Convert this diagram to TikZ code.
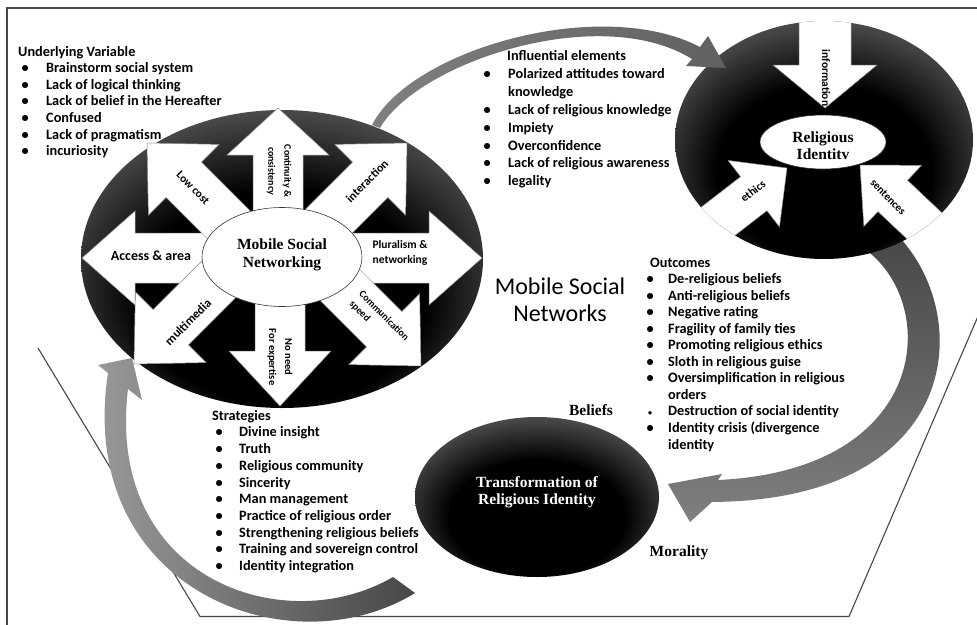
\documentclass[tikz,border=0pt]{standalone}
\usepackage{fontspec}
\setmainfont{Liberation Serif}
\newfontfamily\carlito{Carlito}
\usetikzlibrary{calc,shapes.geometric}

% black ovals: black core, grey rim that shows mostly towards the top
\pgfdeclareradialshading{rimshade}{\pgfpoint{0bp}{-10bp}}{color(0bp)=(black); color(18bp)=(black); color(34bp)=(black!58); color(50bp)=(black!58)}

% block arrow: #1 style, #2 start, #3 tip, #4 head length, #5 head half-width, #6 shaft half-width
\newcommand\blockarrow[6]{%
  \coordinate (ba-s) at #2;
  \coordinate (ba-t) at #3;
  \coordinate (ba-b) at ($(ba-t)!#4!(ba-s)$);
  \path[#1] ($(ba-s)!#6!90:(ba-t)$) -- ($(ba-b)!#6!90:(ba-t)$) -- ($(ba-b)!#5!90:(ba-t)$)
    -- (ba-t) -- ($(ba-b)!#5!-90:(ba-t)$) -- ($(ba-b)!#6!-90:(ba-t)$) -- ($(ba-s)!#6!-90:(ba-t)$) -- cycle;}

% bulleted list lines: offsets of heading, bullet centre and item text
\newcommand\listhead[2]{\hspace*{#1}#2}
\newcommand\listitem[3]{\hspace*{#1}\makebox[0pt]{\textbullet}\hspace*{#2}#3}
\newcommand\listsmall[3]{\hspace*{#1}\makebox[0pt]{\fontsize{8}{8}\selectfont\textbullet}\hspace*{#2}#3}
\newcommand\listcont[2]{\hspace*{#1}#2}

\begin{document}
\begin{tikzpicture}[x=1pt, y=-1pt,
  frameline/.style={draw=black!72, line width=1.3pt},
  % lists are placed by the baseline of their last line
  listbox/.style={font=\carlito\bfseries\fontsize{14.3}{#1}\selectfont, align=left, anchor=base west, inner sep=0pt},
  lbl/.style 2 args={font=\carlito\bfseries\fontsize{#1}{#2}\selectfont, inner sep=0pt, align=center},
  serifbold/.style 2 args={font=\bfseries\fontsize{#1}{#2}\selectfont, inner sep=0pt, align=center},
  blackoval/.style={ellipse, shading=rimshade, inner sep=0pt},
  whiteoval/.style={ellipse, fill=white, draw=black!80, line width=0.6pt, inner sep=0pt},
  whitearrow/.style={fill=white, draw=black!45, line width=0.5pt, line join=miter}
]
\useasboundingbox (0,0) rectangle (977,624);
\clip (0,0) rectangle (977,624);
\fill[white] (0,0) rectangle (977,624);

% page frame and the open trapezoid
\draw[frameline] (990,8) -- (7,8) -- (7,640);
\draw[frameline, line width=1.1pt] (38,348) -- (200,616.5) -- (849,616.5) -- (991,286);

% curved band: identity oval -> transformation oval
\path[top color=black!72, middle color=black!28, bottom color=black!50]
  (900,238) .. controls (975,320) and (960,500) .. (712,502) -- (690,522) -- (668,484)
  -- (722,474) -- (718,480) .. controls (930,470) and (940,305) .. (866,250) -- cycle;

% curved band: transformation -> mobile social networking
\path[left color=black!38, right color=black!72]
  (415,593) .. controls (290,670) and (75,590) .. (108,373) -- (98,365) -- (132,358)
  -- (142,400) -- (128,389) .. controls (105,580) and (285,640) .. (393,577) -- cycle;

% the three dark ovals
\node[blackoval, minimum width=402pt, minimum height=298pt] (mobile) at (282,259) {};
\node[blackoval, minimum width=298pt, minimum height=238pt] (identity) at (824,140) {};
\node[blackoval, minimum width=244pt, minimum height=160pt] (transform) at (537,497) {};

% eight arrows radiating from Mobile Social Networking
\blockarrow{whitearrow}{(278,259)}{(278,108)}{47pt}{51pt}{25pt}
\blockarrow{whitearrow}{(280,259)}{(280,406)}{55pt}{51pt}{25pt}
\blockarrow{whitearrow}{(282,258)}{(82,258)}{53pt}{47pt}{25pt}
\blockarrow{whitearrow}{(282,258)}{(482,258)}{53pt}{47pt}{25pt}
\blockarrow{whitearrow}{(277,273)}{(147,143)}{52pt}{50pt}{25pt}
\blockarrow{whitearrow}{(277,273)}{(407,143)}{52pt}{50pt}{25pt}
\blockarrow{whitearrow}{(264,234)}{(134,364)}{52pt}{50pt}{25pt}
\blockarrow{whitearrow}{(291,236)}{(421,366)}{52pt}{50pt}{25pt}
\node[whiteoval, minimum width=160pt, minimum height=99pt] (msnoval) at (282,257) {};

% three arrows pointing into Religious Identity
\begin{scope}
  \clip (824,140) ellipse [x radius=149pt, y radius=119pt];
  \blockarrow{whitearrow}{(825,-10)}{(825,108)}{43pt}{52pt}{26pt}
  \blockarrow{whitearrow}{(668,260)}{(787,168)}{42pt}{42pt}{21.5pt}
  \blockarrow{whitearrow}{(969,268)}{(860,165)}{45pt}{42pt}{21.5pt}
\end{scope}
\node[whiteoval, minimum width=126pt, minimum height=54pt] (rioval) at (823,142) {};

% curved band: mobile social networking -> identity oval
\path[left color=black!50, middle color=black!25, right color=black!62]
  (372,125) .. controls (410,50) and (600,-5) .. (700,47) -- (708,36) -- (726,68)
  -- (686,66) -- (692,59) .. controls (600,2) and (418,62) .. (380,128) -- cycle;

% oval captions
\node[serifbold={15.5}{18}] (msntxt) at (282,255) {Mobile Social\\Networking};
\node[serifbold={15.5}{17}] (ritxt) at (823,146) {Religious\\Identitv};
\node[serifbold={15.5}{17.5}, text=white] (tritxt) at (537,492) {Transformation of\\Religious Identity};

% arrow labels
\node[lbl={11.5}{13}, rotate=-45] (lowcost) at (193,188) {Low cost};
\node[lbl={10}{16}, rotate=-90] (contin) at (279,171) {Continuity \&\\consistency};
\node[lbl={12}{14}, rotate=45] (interact) at (367,181) {interaction};
\node[lbl={14}{16}] (access) at (151,256) {Access \& area};
\node[lbl={11.5}{15}] (plural) at (400,253) {Pluralism \&\\networking};
\node[lbl={12.5}{14}, rotate=45] (multi) at (188,322) {multimedia};
\node[lbl={10.5}{16}, rotate=-90] (noneed) at (280,357) {No need\\For expertise};
\node[lbl={10}{13.6}, rotate=-45, align=left] (commsp) at (379,321) {Communication\\speed};
\node[lbl={11.5}{13}, rotate=-90] (info) at (826,78) {information};
\node[lbl={11.5}{13}, rotate=38] (ethics) at (753,191) {ethics};
\node[lbl={11}{13}, rotate=-46] (sent) at (888,197) {sentences};

% central title and the two side words
\node[font=\carlito\fontsize{24}{27.5}\selectfont, align=center, inner sep=0pt] (title) at (560,300) {Mobile Social\\Networks};
\node[serifbold={15.5}{17}] (beliefs) at (591,410) {Beliefs};
\node[serifbold={15.5}{17}] (morality) at (679,553) {Morality};

% bulleted lists
\node[listbox=16.6] (underlying) at (18,155.6) {\listhead{0pt}{Underlying Variable}\\
  \listitem{7pt}{21pt}{Brainstorm social system}\\
  \listitem{7pt}{21pt}{Lack of logical thinking}\\
  \listitem{7pt}{21pt}{Lack of belief in the Hereafter}\\
  \listitem{7pt}{21pt}{Confused}\\
  \listitem{7pt}{21pt}{Lack of pragmatism}\\
  \listitem{7pt}{21pt}{incuriosity}};

\node[listbox=17.9] (influential) at (480,185.8) {\listhead{27pt}{Influential elements}\\
  \listitem{7pt}{21pt}{Polarized attitudes toward}\\
  \listcont{28pt}{knowledge}\\
  \listitem{7pt}{21pt}{Lack of religious knowledge}\\
  \listitem{7pt}{21pt}{Impiety}\\
  \listitem{7pt}{21pt}{Overconfidence}\\
  \listitem{7pt}{21pt}{Lack of religious awareness}\\
  \listitem{7pt}{21pt}{legality}};

\node[listbox=16.52] (outcomes) at (643,449) {\listhead{7pt}{Outcomes}\\
  \listitem{7pt}{18pt}{De-religious beliefs}\\
  \listitem{7pt}{18pt}{Anti-religious beliefs}\\
  \listitem{7pt}{18pt}{Negative rating}\\
  \listitem{7pt}{18pt}{Fragility of family ties}\\
  \listitem{7pt}{18pt}{Promoting religious ethics}\\
  \listitem{7pt}{18pt}{Sloth in religious guise}\\
  \listitem{7pt}{18pt}{Oversimplification in religious}\\
  \listcont{25pt}{orders}\\
  \listsmall{7pt}{18pt}{Destruction of social identity}\\
  \listitem{7pt}{18pt}{Identity crisis (divergence}\\
  \listcont{25pt}{identity}};

\node[listbox=16.74] (strategies) at (205,570.7) {\listhead{7pt}{Strategies}\\
  \listitem{14pt}{20pt}{Divine insight}\\
  \listitem{14pt}{20pt}{Truth}\\
  \listitem{14pt}{20pt}{Religious community}\\
  \listitem{14pt}{20pt}{Sincerity}\\
  \listitem{14pt}{20pt}{Man management}\\
  \listitem{14pt}{20pt}{Practice of religious order}\\
  \listitem{14pt}{20pt}{Strengthening religious beliefs}\\
  \listitem{14pt}{20pt}{Training and sovereign control}\\
  \listitem{14pt}{20pt}{Identity integration}};
\end{tikzpicture}
\end{document}
